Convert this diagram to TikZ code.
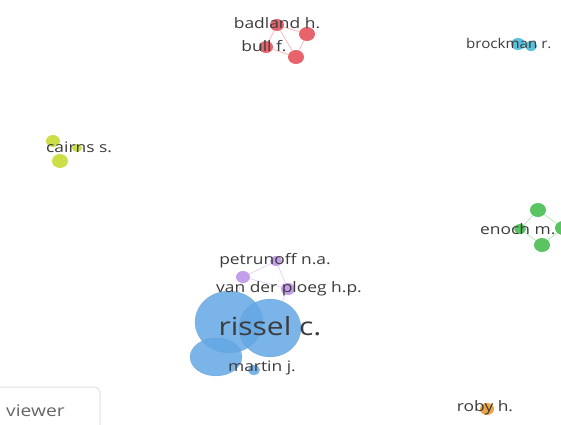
\documentclass[tikz,border=0pt]{standalone}
\usepackage{fontspec}
\setmainfont{Open Sans}
\usetikzlibrary{positioning}
\usetikzlibrary{shapes.geometric}
\definecolor{cred}{RGB}{228,72,82}
\definecolor{ccyan}{RGB}{64,182,214}
\definecolor{cyel}{RGB}{196,218,40}
\definecolor{cgreen}{RGB}{62,186,72}
\definecolor{cpurple}{RGB}{186,140,232}
\definecolor{cblue}{RGB}{100,168,228}
\definecolor{corange}{RGB}{232,150,40}
\definecolor{ctext}{RGB}{60,60,60}
\newcommand{\wide}[1]{\scalebox{1.2}[1]{#1}}
\tikzset{bubble/.style 2 args = {ellipse, inner sep=0, minimum width=2*#1, minimum height=2*#2, fill opacity=0.85}}
\tikzset{lbl/.style = {inner sep=0, text=ctext, font=\fontsize{14.5}{16}\selectfont}}
\tikzset{link/.style = {line width=0.8pt, opacity=0.35}}

\begin{document}
\begin{tikzpicture}[x=1pt, y=-1pt]
  \useasboundingbox (0,0) rectangle (561,424);
  \clip (0,0) rectangle (561,424);
  \fill[white] (0,0) rectangle (561,424);

  % red cluster
  \node[bubble={7}{6}, fill=cred] (badland) at (277,25) {};
  \node[bubble={8}{7}, fill=cred] (r2) at (307,34) {};
  \node[bubble={7}{6}, fill=cred] (bull) at (266,47) {};
  \node[bubble={8}{7}, fill=cred] (r4) at (296,57) {};
  \draw[link, cred] (badland) -- (r2);
  \draw[link, cred] (badland) -- (bull);
  \draw[link, cred] (badland) -- (r4);
  \draw[link, cred] (r2) -- (r4);
  \draw[link, cred] (bull) -- (r4);

  % cyan cluster
  \node[bubble={7}{6}, fill=ccyan] (brockman) at (518,44) {};
  \node[bubble={6}{5}, fill=ccyan] (c2) at (531,46) {};

  % yellow cluster
  \node[bubble={7}{6}, fill=cyel] (y1) at (53,141) {};
  \node[bubble={8}{7}, fill=cyel] (y2) at (60,161) {};
  \node[bubble={5}{4}, fill=cyel] (cairns) at (77,148) {};

  % green cluster
  \node[bubble={6}{5}, fill=cgreen] (enoch) at (520,229) {};
  \node[bubble={8}{7}, fill=cgreen] (g2) at (538,210) {};
  \node[bubble={8}{7}, fill=cgreen] (g3) at (542,245) {};
  \node[bubble={8}{7}, fill=cgreen] (g4) at (563,228) {};
  \draw[link, cgreen] (enoch) -- (g2);
  \draw[link, cgreen] (enoch) -- (g3);
  \draw[link, cgreen] (g2) -- (g4);
  \draw[link, cgreen] (g3) -- (g4);

  % purple cluster
  \node[bubble={6}{5}, fill=cpurple] (petrunoff) at (276,261) {};
  \node[bubble={7}{6}, fill=cpurple] (p2) at (243,277) {};
  \node[bubble={7}{6}, fill=cpurple] (ploeg) at (288,289) {};
  \draw[link, cpurple] (petrunoff) -- (p2);
  \draw[link, cpurple] (petrunoff) -- (ploeg);
  \draw[link, cpurple] (p2) -- (ploeg);

  % blue cluster
  \node[bubble={34}{31}, fill=cblue, draw=cblue!80!black, draw opacity=0.3] (b1) at (229,322) {};
  \node[bubble={31}{29}, fill=cblue, draw=cblue!80!black, draw opacity=0.3] (rissel) at (270,328) {};
  \node[bubble={26}{19}, fill=cblue, draw=cblue!80!black, draw opacity=0.3] (b3) at (216,357) {};
  \node[bubble={6}{5}, fill=cblue] (martin) at (254,370) {};
  \draw[link, cpurple] (p2) -- (b1);
  \draw[link, cpurple] (ploeg) -- (rissel);

  % orange
  \node[bubble={7}{6}, fill=corange] (roby) at (487,409) {};

  % labels
  \node[lbl] (lbadland) at (277,23) {\wide{badland h.}};
  \node[lbl] (lbull) at (264,46) {\wide{bull f.}};
  \node[lbl, anchor=west, font=\fontsize{13.5}{16}\selectfont] (lbrockman) at (466,43) {\scalebox{1.12}[1]{brockman r.}};
  \node[lbl, anchor=west] (lcairns) at (46,147) {\wide{cairns s.}};
  \node[lbl, anchor=west] (lenoch) at (480,229) {\wide{enoch m.}};
  \node[lbl] (lpetrunoff) at (275,261) {\wide{petrunoff n.a.}};
  \node[lbl] (lploeg) at (289,289) {\wide{van der ploeg h.p.}};
  \node[lbl, font=\fontsize{25}{28}\selectfont] (lrissel) at (270,326) {\wide{rissel c.}};
  \node[lbl] (lmartin) at (262,368) {\wide{martin j.}};
  \node[lbl] (lroby) at (485,408) {\wide{roby h.}};

  % viewer box
  \draw[black!12, line width=1pt, rounded corners=6pt] (-10,387) rectangle (100,440);
  \node[lbl, anchor=west, text=black!60, font=\fontsize{16}{18}\selectfont] (lviewer) at (6,411) {\wide{viewer}};
\end{tikzpicture}
\end{document}
